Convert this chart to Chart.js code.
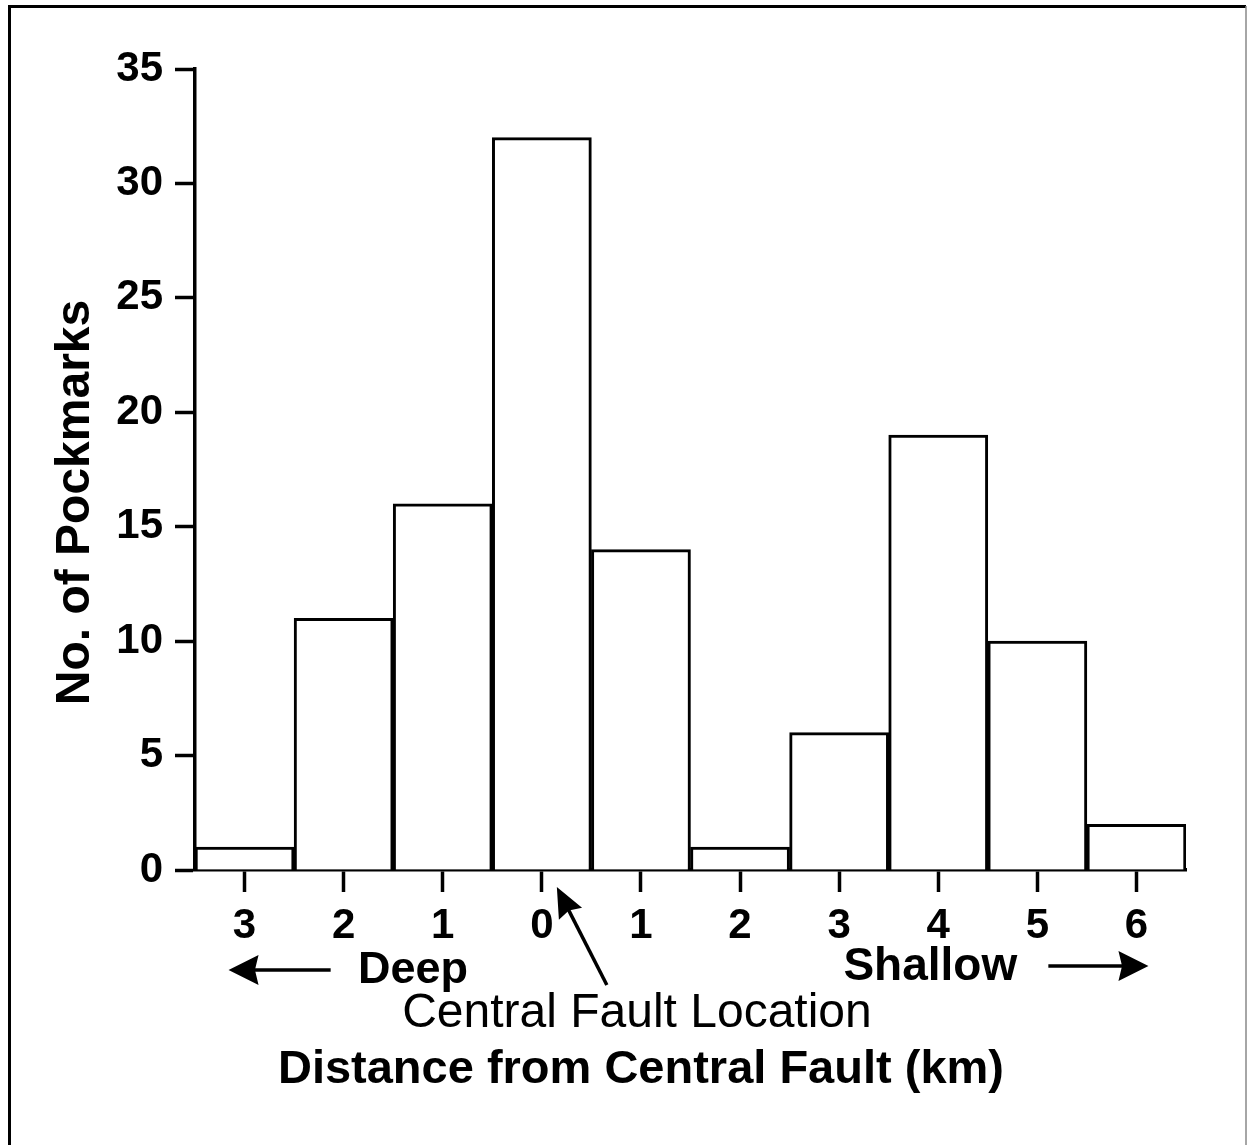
<!DOCTYPE html>
<html>
<head>
<meta charset="utf-8">
<script src="https://cdn.jsdelivr.net/npm/chart.js@4.4.1/dist/chart.umd.min.js"></script>
<style>
  body { margin: 0; background: #fff; }
</style>
</head>
<body>
<canvas id="chartPockmarks" width="1248" height="1145"></canvas>
<script>
const distanceLabels = ['3', '2', '1', '0', '1', '2', '3', '4', '5', '6'];
const pockmarkCounts = [1, 11, 16, 32, 14, 1, 6, 19, 10, 2];
const yTicks = [0, 5, 10, 15, 20, 25, 30, 35];

const FONT = '"Liberation Sans", Arial, Helvetica, sans-serif';

function arrow(ctx, x1, y1, x2, y2, headLen, headHalf) {
  const ang = Math.atan2(y2 - y1, x2 - x1);
  const bx = x2 - headLen * Math.cos(ang);
  const by = y2 - headLen * Math.sin(ang);
  ctx.beginPath();
  ctx.moveTo(x1, y1);
  ctx.lineTo(x2 - 0.8 * headLen * Math.cos(ang), y2 - 0.8 * headLen * Math.sin(ang));
  ctx.stroke();
  ctx.beginPath();
  ctx.moveTo(x2, y2);
  ctx.lineTo(bx + headHalf * Math.sin(ang), by - headHalf * Math.cos(ang));
  ctx.lineTo(x2 - 0.88 * headLen * Math.cos(ang), y2 - 0.88 * headLen * Math.sin(ang));
  ctx.lineTo(bx - headHalf * Math.sin(ang), by + headHalf * Math.cos(ang));
  ctx.closePath();
  ctx.fill();
}

const framePlugin = {
  id: 'frame',
  beforeDraw(chart) {
    const ctx = chart.ctx;
    ctx.save();
    ctx.fillStyle = '#fff';
    ctx.fillRect(0, 0, chart.width, chart.height);
    ctx.strokeStyle = '#000';
    ctx.lineWidth = 3;
    ctx.beginPath();
    ctx.moveTo(9.5, chart.height);
    ctx.lineTo(9.5, 6.5);
    ctx.lineTo(1246, 6.5);
    ctx.stroke();
    ctx.strokeStyle = '#888';
    ctx.lineWidth = 1.5;
    ctx.beginPath();
    ctx.moveTo(1246, 6);
    ctx.lineTo(1246, chart.height);
    ctx.stroke();
    ctx.restore();
  }
};

const notesPlugin = {
  id: 'notes',
  afterDraw(chart) {
    const ctx = chart.ctx;
    const xs = chart.scales.x;
    const step = xs.getPixelForValue(1) - xs.getPixelForValue(0);
    const base = chart.chartArea.bottom;
    ctx.save();
    ctx.fillStyle = '#000';
    ctx.strokeStyle = '#000';
    ctx.lineWidth = 3.5;
    ctx.textAlign = 'center';
    ctx.textBaseline = 'alphabetic';

    // Deep <-
    ctx.font = 'bold 45px ' + FONT;
    ctx.fillText('Deep', xs.getPixelForValue(1) + 0.7 * step, base + 113);
    arrow(ctx, xs.getPixelForValue(1) - 13, base + 100, xs.getPixelForValue(0) - 16, base + 100, 30, 15);

    // Shallow ->
    ctx.font = 'bold 46px ' + FONT;
    ctx.fillText('Shallow', xs.getPixelForValue(7) - 0.08 * step, base + 110);
    arrow(ctx, xs.getPixelForValue(8) + 11, base + 96, xs.getPixelForValue(9) + 12, base + 96, 30, 15);

    // Central fault
    ctx.font = '48px ' + FONT;
    ctx.fillText('Central Fault Location', xs.getPixelForValue(4) - 4, base + 157);
    arrow(ctx, xs.getPixelForValue(3) + 65, base + 115, xs.getPixelForValue(3) + 15, base + 17, 30, 13);

    // axis titles
    ctx.font = 'bold 47px ' + FONT;
    ctx.fillText('Distance from Central Fault (km)', xs.getPixelForValue(4), base + 213);

    const ys = chart.scales.y;
    ctx.font = 'bold 48px ' + FONT;
    ctx.translate(89, (ys.top + ys.bottom) / 2 + 33);
    ctx.rotate(-Math.PI / 2);
    ctx.fillText('No. of Pockmarks', 0, 0);
    ctx.restore();
  }
};

const ctxPockmarks = document.getElementById('chartPockmarks');

new Chart(ctxPockmarks, {
  type: 'bar',
  data: {
    labels: distanceLabels,
    datasets: [{
      data: pockmarkCounts,
      backgroundColor: '#fff',
      borderColor: '#000',
      borderWidth: 3,
      barPercentage: 1,
      categoryPercentage: 1
    }]
  },
  options: {
    responsive: false,
    animation: false,
    layout: {
      padding: { left: 0, right: 62, top: 69, bottom: 0 }
    },
    plugins: {
      legend: { display: false },
      tooltip: { enabled: false }
    },
    scales: {
      x: {
        afterFit(scale) { scale.height = 275; },
        grid: {
          offset: false,
          drawOnChartArea: false,
          tickLength: 22,
          tickWidth: 3.5,
          tickColor: '#000'
        },
        border: { color: '#000', width: 3.5 },
        ticks: {
          color: '#000',
          padding: 9,
          font: { family: FONT, size: 42, weight: 'bold' }
        }
      },
      y: {
        min: 0,
        max: 35,
        afterFit(scale) { scale.width = 195; },
        afterBuildTicks(scale) { scale.ticks = yTicks.map(v => ({ value: v })); },
        grid: {
          drawOnChartArea: false,
          tickLength: 20,
          tickWidth: 3.5,
          tickColor: '#000'
        },
        border: { color: '#000', width: 3.5 },
        ticks: {
          color: '#000',
          padding: 12,
          font: { family: FONT, size: 42, weight: 'bold' }
        }
      }
    }
  },
  plugins: [framePlugin, notesPlugin]
});
</script>
</body>
</html>
